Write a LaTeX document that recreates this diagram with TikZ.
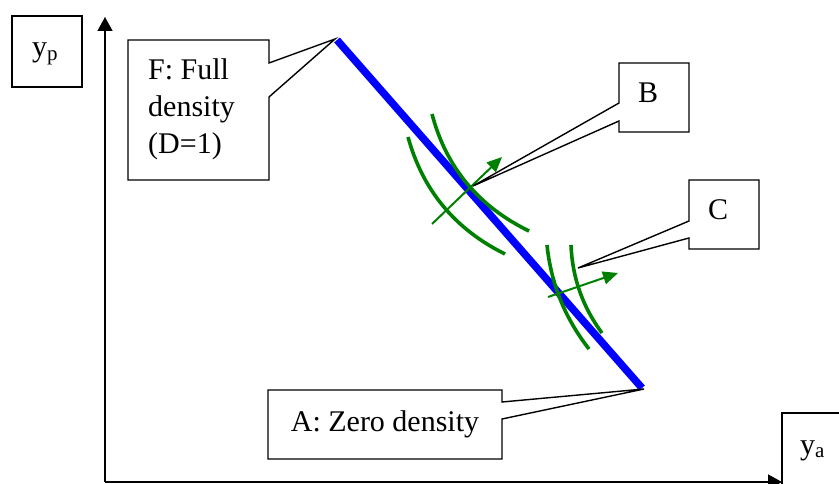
\documentclass[tikz,border=0pt]{standalone}
\usepackage{fontspec}
\setmainfont{Liberation Serif}
\usetikzlibrary{arrows.meta}
\definecolor{dgreen}{RGB}{0,128,0}
\begin{document}
\begin{tikzpicture}[x=1pt,y=-1pt,
  box/.style={draw=black,line width=1.4pt,fill=white,line join=miter},
  lbl/.style={inner sep=0pt,font=\fontsize{30}{37}\selectfont},
  axis/.style={line width=1.4pt,-{Triangle[length=14pt,width=15pt]}},
  arcg/.style={draw=dgreen,line width=3.6pt},
  arrg/.style={draw=dgreen,line width=2pt,-{Triangle[length=15pt,width=13pt]},dgreen}]
\clip (0,0) rectangle (839,484);
\useasboundingbox (0,0) rectangle (839,484);
% axes
\coordinate (O) at (105,482);
\coordinate (Ytop) at (105,17);
\coordinate (Xend) at (782,482);
\draw[axis] (O) -- (Ytop);
\draw[axis] (O) -- (Xend);
% axis label boxes
\draw[box] (12,16) rectangle (82,87);
\node[lbl,anchor=base west] (yp) at (32,57) {y\textsubscript{p}};
\draw[box] (782,413) rectangle (860,500);
\node[lbl,anchor=base west] (ya) at (800,454) {y\textsubscript{a}};
% blue line
\coordinate (F) at (337,40);
\coordinate (A) at (642,388);
\draw[blue,line width=7.5pt] (F) -- (A);
% green arcs at B
\coordinate (b1s) at (432,114); \coordinate (b1e) at (529,231);
\coordinate (b2s) at (408,137); \coordinate (b2e) at (505,254);
\draw[arcg] (b1s) .. controls (446,167.3) and (478.3,206.3) .. (b1e);
\draw[arcg] (b2s) .. controls (422.7,190.3) and (455,229.3) .. (b2e);
\coordinate (bas) at (432,224); \coordinate (bae) at (502,157);
\draw[arrg] (bas) -- (bae);
% green arcs at C
\coordinate (c1s) at (547,245); \coordinate (c1e) at (589,349);
\coordinate (c2s) at (571,245); \coordinate (c2e) at (602,333);
\draw[arcg] (c1s) .. controls (551,283.7) and (565,318.3) .. (c1e);
\draw[arcg] (c2s) .. controls (572.3,277.7) and (582.7,307) .. (c2e);
\coordinate (cas) at (548,297); \coordinate (cae) at (618,273);
\draw[arrg] (cas) -- (cae);
% callout F
\coordinate (Ftip) at (335,39);
\draw[box] (128,40) -- (269,40) -- (269,63) -- (Ftip) -- (269,97) -- (269,180) -- (128,180) -- cycle;
\node[lbl,anchor=north west,align=left] (Ftext) at (148,58) {F: Full\\density\\(D=1)};
% callout B
\coordinate (Btip) at (473,186);
\draw[box] (619,63) -- (689,63) -- (689,132) -- (619,132) -- (619,121) -- (Btip) -- (619,103) -- cycle;
\node[lbl,anchor=base] (Btext) at (648,103) {B};
% callout C
\coordinate (Ctip) at (578,268);
\draw[box] (689,180) -- (759,180) -- (759,249) -- (689,249) -- (689,238) -- (Ctip) -- (689,221) -- cycle;
\node[lbl,anchor=base] (Ctext) at (718,220) {C};
% callout A
\coordinate (Atip) at (644,389);
\draw[box] (268,390) -- (502,390) -- (502,402) -- (Atip) -- (502,419) -- (502,459) -- (268,459) -- cycle;
\node[lbl,anchor=base] (Atext) at (385,431) {A: Zero density};
\end{tikzpicture}
\end{document}
